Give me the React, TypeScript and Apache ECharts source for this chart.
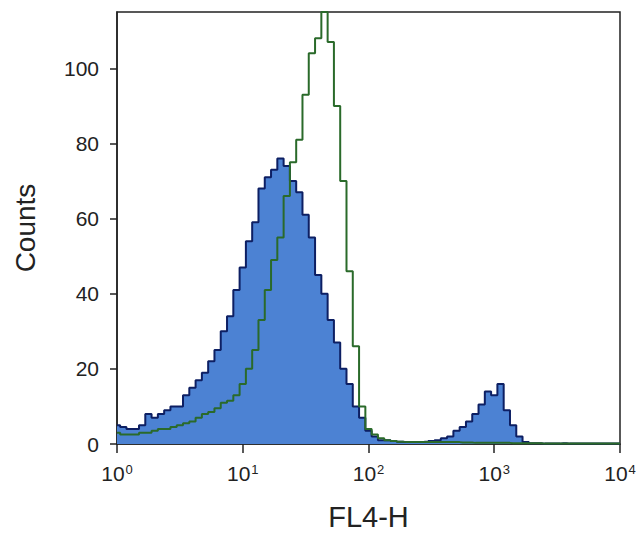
import React, { useEffect, useRef } from "react";
import * as echarts from "echarts";

// FL4-H bin centres (log spaced, 20 bins per decade)
const fl4Bins: number[] = [
  1, 1.122, 1.259, 1.413, 1.585, 1.778, 1.995, 2.239, 2.512, 2.818, 3.162, 3.548, 3.981, 4.467, 5.012, 5.623, 6.31, 7.079, 7.943, 8.913,
  10, 11.22, 12.59, 14.13, 15.85, 17.78, 19.95, 22.39, 25.12, 28.18, 31.62, 35.48, 39.81, 44.67, 50.12, 56.23, 63.1, 70.79, 79.43, 89.13,
  100, 112.2, 125.9, 141.3, 158.5, 177.8, 199.5, 223.9, 251.2, 281.8, 316.2, 354.8, 398.1, 446.7, 501.2, 562.3, 631, 707.9, 794.3, 891.3,
  1000, 1122, 1259, 1413, 1585, 1778, 1995, 2239, 2512, 2818, 3162, 3548, 3981, 4467, 5012, 5623, 6310, 7079, 7943, 8913, 10000,
];

// Filled (blue) histogram counts
const blueCounts: number[] = [
  5, 4.5, 4, 4, 5, 8, 7, 8, 9, 10, 10, 13, 15, 17, 19, 22, 25, 30, 34, 41,
  47, 54, 59, 68, 71, 73, 76, 74, 70, 67, 61, 55, 45, 40, 33, 27, 20, 16, 10, 7,
  3.5, 2, 1, 1, 0.8, 0.6, 0.5, 0.5, 0.5, 0.6, 0.8, 1, 1.5, 2, 3.5, 4.5, 6, 8, 10.5, 14,
  13, 16, 9, 5, 2, 0.5, 0.2, 0.2, 0.1, 0.1, 0.1, 0.2, 0.1, 0.1, 0.1, 0.1, 0.1, 0.1, 0.1, 0.1, 0.1,
];

// Open (green) histogram counts
const greenCounts: number[] = [
  3, 2.5, 2.5, 2.5, 3, 3, 3.5, 4, 4, 4.5, 5, 5.5, 6, 7, 8, 8.5, 9.5, 11, 11.5, 13,
  16, 20, 25, 33, 41, 49, 55, 66, 75, 81, 93, 104, 108, 115, 107, 90, 70, 46, 26, 10,
  4, 2.5, 1.5, 1, 0.8, 0.6, 0.5, 0.5, 0.5, 0.5, 0.5, 0.5, 0.5, 0.5, 0.5, 0.4, 0.4, 0.3, 0.3, 0.3,
  0.3, 0.3, 0.3, 0.2, 0.2, 0.2, 0.2, 0.2, 0.1, 0.1, 0.1, 0.1, 0.1, 0.1, 0.1, 0.1, 0.1, 0.1, 0.1, 0.1, 0.1,
];

const yTicks: number[] = [0, 20, 40, 60, 80, 100];
const xTicks: number[] = [1, 10, 100, 1000, 10000];

export default function App() {
  const ref = useRef<HTMLDivElement>(null);
  useEffect(() => {
    if (!ref.current) return;
    const chart = echarts.init(ref.current, undefined, { renderer: "svg" });
    const font = "'Liberation Sans', Arial, Helvetica, sans-serif";
    const blueData = fl4Bins.map((x, i) => [x, blueCounts[i]]);
    const greenData = fl4Bins.map((x, i) => [x, greenCounts[i]]);
    chart.setOption({
      animation: false,
      backgroundColor: "#ffffff",
      grid: {
        left: 117,
        right: 21,
        top: 12,
        bottom: 96,
        show: true,
        borderColor: "#222",
        borderWidth: 1.5,
        backgroundColor: "transparent",
      },
      xAxis: {
        type: "log",
        logBase: 10,
        min: 1,
        max: 10000,
        name: "FL4-H",
        nameLocation: "middle",
        nameGap: 58,
        nameTextStyle: { fontFamily: font, fontSize: 29, color: "#222" },
        axisLine: { show: true, lineStyle: { color: "#222", width: 1.5 } },
        axisTick: { show: true, length: 9, inside: false, customValues: xTicks, lineStyle: { color: "#222", width: 1.5 } },
        splitLine: { show: false },
        minorTick: { show: false },
        axisLabel: {
          customValues: xTicks,
          margin: 19,
          fontFamily: font,
          fontSize: 21,
          color: "#222",
          formatter: (v: number) => "10{s|" + Math.round(Math.log10(v)) + "}",
          rich: {
            s: { fontFamily: font, fontSize: 13, color: "#222", verticalAlign: "top", padding: [0, 0, 6, 1] },
          },
        },
      },
      yAxis: {
        type: "value",
        min: 0,
        max: 115,
        name: "Counts",
        nameLocation: "middle",
        nameGap: 78,
        nameTextStyle: { fontFamily: font, fontSize: 28, color: "#222" },
        axisLine: { show: true, lineStyle: { color: "#222", width: 1.5 } },
        axisTick: { show: true, length: 7, inside: false, customValues: yTicks, lineStyle: { color: "#222", width: 1.5 } },
        splitLine: { show: false },
        axisLabel: { customValues: yTicks, margin: 18, fontFamily: font, fontSize: 21, color: "#222" },
      },
      series: [
        {
          type: "line",
          name: "blue",
          data: blueData,
          step: "middle",
          symbol: "none",
          z: 2,
          lineStyle: { color: "#0d1f63", width: 2 },
          areaStyle: { color: "#4c82d3", opacity: 1 },
        },
        {
          type: "line",
          name: "green",
          data: greenData,
          step: "middle",
          symbol: "none",
          z: 3,
          lineStyle: { color: "#2a6a2a", width: 2 },
        },
      ],
    });
    return () => chart.dispose();
  }, []);
  return <div ref={ref} style={{ position: "fixed", left: 0, top: 0, width: 641, height: 540 }} />;
}
